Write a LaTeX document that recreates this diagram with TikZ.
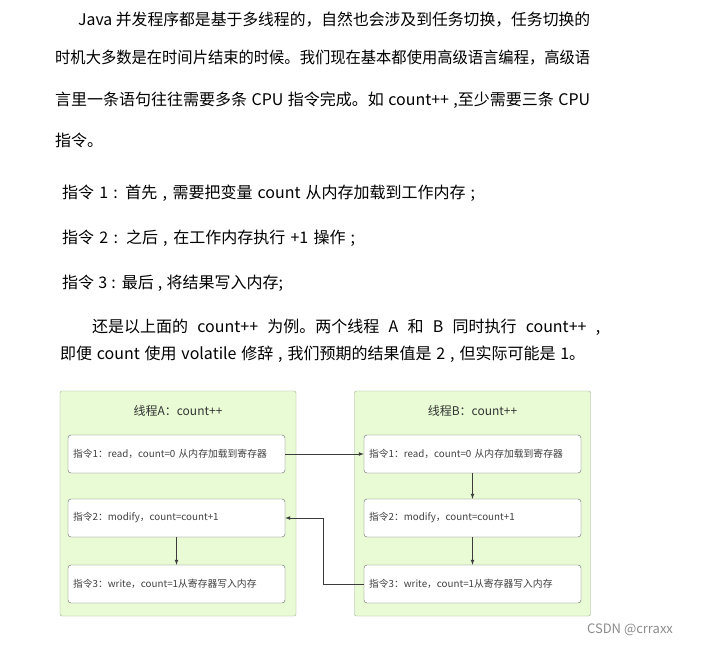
\documentclass[tikz,border=0pt]{standalone}
\usepackage{fontspec}
\setmainfont{Noto Sans CJK SC}
\usepackage{graphicx}
\usepackage{tikz}
\usetikzlibrary{arrows}
\usetikzlibrary{calc}

\definecolor{threadfill}{RGB}{232,251,212}
\definecolor{threadline}{RGB}{158,174,144}
\definecolor{stepline}{RGB}{100,100,100}
\definecolor{arrline}{RGB}{60,60,60}

\newcommand{\fullline}[2]{\makebox[#1][s]{#2}}
\newcommand{\fitline}[2]{\resizebox{#1}{\height}{#2}}

\tikzset{
  bodytext/.style={anchor=west,inner sep=0pt,font=\fontsize{16}{18}\selectfont},
  threadbox/.style={draw=threadline,fill=threadfill,rounded corners=2pt,minimum width=236pt,minimum height=225pt},
  threadtitle/.style={font=\fontsize{12}{14}\selectfont,text=black!80},
  stepbox/.style={draw=stepline,fill=white,rounded corners=3pt,text width=207pt,align=left,
    inner xsep=5pt,minimum height=38pt,font=\fontsize{9.8}{12}\selectfont,text=black!75},
  arr/.style={-latex,draw=arrline,line width=0.7pt}
}

\begin{document}
\begin{tikzpicture}[x=1pt,y=-1pt]%count++ two threads
\useasboundingbox (0,0) rectangle (710,647);
\fill[white] (0,0) rectangle (710,647);
% text above the diagram
\node[bodytext] (p1) at (78,20) {\fitline{512pt}{Java 并发程序都是基于多线程的，自然也会涉及到任务切换，任务切换的}};
\node[bodytext] (p2) at (55,58) {\fitline{535pt}{时机大多数是在时间片结束的时候。我们现在基本都使用高级语言编程，高级语}};
\node[bodytext] (p3) at (55,100) {\fullline{535pt}{言里一条语句往往需要多条 CPU 指令完成。如 count++ ,至少需要三条 CPU}};
\node[bodytext] (p4) at (55,140) {指令。};
\node[bodytext] (s1) at (62,193) {\fullline{413pt}{指令 1 : 首先 , 需要把变量 count 从内存加载到工作内存 ;}};
\node[bodytext] (s2) at (62,238) {\fullline{293pt}{指令 2 : 之后 , 在工作内存执行 +1 操作 ;}};
\node[bodytext] (s3) at (62,283) {\fullline{221pt}{指令 3 : 最后 , 将结果写入内存;}};
\node[bodytext] (q1) at (92,327) {\fullline{508pt}{还是以上面的 count++ 为例。两个线程 A 和 B 同时执行 count++ ,}};
\node[bodytext] (q2) at (60,354) {\fullline{525pt}{即便 count 使用 volatile 修辞 , 我们预期的结果值是 2 , 但实际可能是 1。}};
% thread boxes
\node[threadbox] (ta) at (178,503.5) {};
\node[threadbox] (tb) at (472.5,503.5) {};
\node[threadtitle] (tta) at (178,411) {线程A：count++};
\node[threadtitle] (ttb) at (472.5,411) {线程B：count++};
\foreach \n/\y/\t in {1/454/{指令1：read，count=0 从内存加载到寄存器},
                      2/518/{指令2：modify，count=count+1},
                      3/584/{指令3：write，count=1从寄存器写入内存}}{
  \node[stepbox] (a\n) at (176.5,\y) {\t};
  \node[stepbox] (b\n) at (472.5,\y) {\t};
}
\draw[arr] (a1.east) -- (b1.west);
\draw[arr] (a2.south) -- (a3.north);
\draw[arr] (b1.south) -- (b2.north);
\draw[arr] (b2.south) -- (b3.north);
\draw[arr] (b3.west) -- ++(-40,0) |- (a2.east);
\node[font=\fontsize{13}{15}\selectfont,text=black!45] (mark) at (630,630) {CSDN @crraxx};
\end{tikzpicture}
\end{document}
